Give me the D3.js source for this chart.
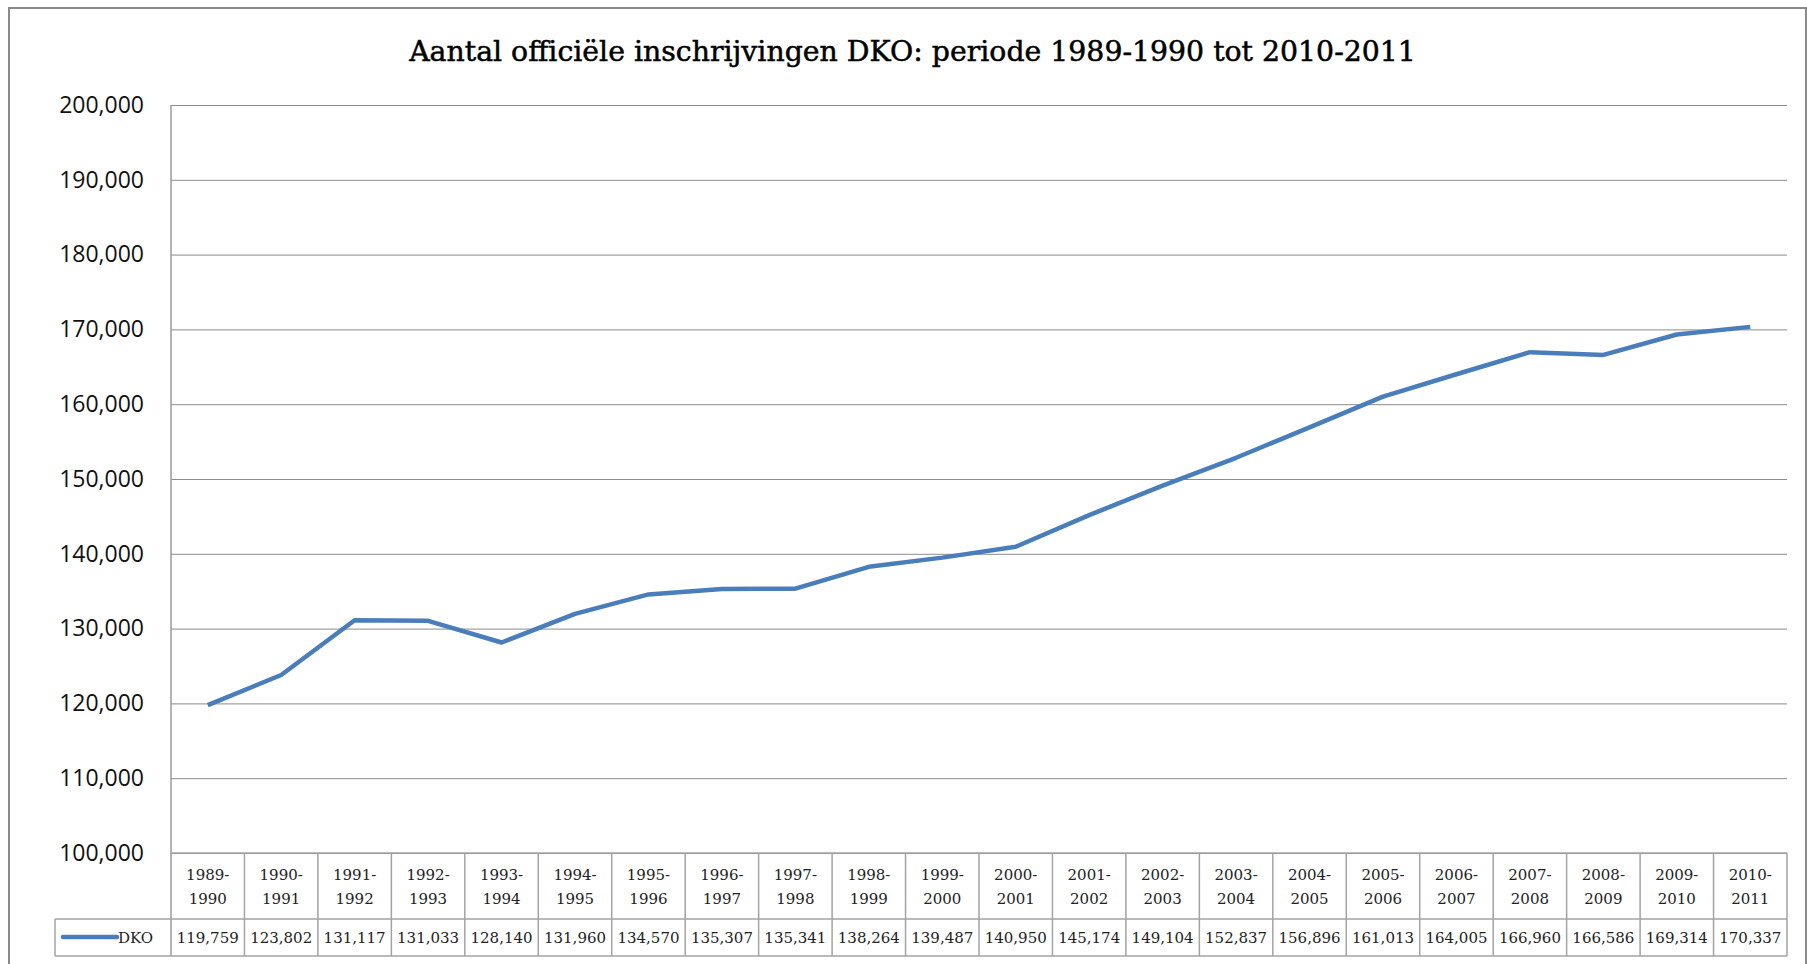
<!DOCTYPE html>
<html>
<head>
<meta charset="utf-8">
<script src="https://d3js.org/d3.v7.min.js"></script>
<style>
  body { margin: 0; background: #fff; }
  .ylab { font-family: "Open Sans", sans-serif; font-size: 23px; fill: #111; }
  .tbl { font-family: "DejaVu Serif", serif; font-size: 15px; fill: #222; }
  .title { font-family: "DejaVu Serif", serif; font-size: 26px; fill: #000; stroke: #000; stroke-width: 0.5px; }
</style>
</head>
<body>
<div id="chart"></div>
<script>
var years = ['1989-1990','1990-1991','1991-1992','1992-1993','1993-1994','1994-1995','1995-1996',
  '1996-1997','1997-1998','1998-1999','1999-2000','2000-2001','2001-2002','2002-2003','2003-2004',
  '2004-2005','2005-2006','2006-2007','2007-2008','2008-2009','2009-2010','2010-2011'];
var dko = [119759,123802,131117,131033,128140,131960,134570,135307,135341,138264,139487,
  140950,145174,149104,152837,156896,161013,164005,166960,166586,169314,170337];
var yTicks = [100000,110000,120000,130000,140000,150000,160000,170000,180000,190000,200000];
var seriesName = 'DKO';
var chartTitle = 'Aantal officiële inschrijvingen DKO: periode 1989-1990 tot 2010-2011';

var W = 1807, H = 964;
var plotL = 171, plotR = 1787, plotT = 105, plotB = 853;
var rowHead = 919, rowEnd = 956, legLeft = 55;

var svg = d3.select('#chart').append('svg').attr('width', W).attr('height', H);

// outer frame
svg.append('rect')
  .attr('x', 9).attr('y', 8).attr('width', 1797).attr('height', 990)
  .style('fill', 'none').style('stroke', '#8a8a8a').style('stroke-width', 2);

var title = svg.append('text').attr('class', 'title')
  .attr('x', (409 + 1416) / 2).attr('y', 61)
  .attr('text-anchor', 'middle')
  .text(chartTitle);
// fit title to the width it has in the original
var tw = title.node().getComputedTextLength();
title.style('font-size', (26 * 1007 / tw) + 'px');

var x = d3.scaleBand().domain(years).range([plotL, plotR]);
var y = d3.scaleLinear().domain([100000, 200000]).range([plotB, plotT]);

// gridlines + y labels
var yAxis = svg.append('g')
  .attr('transform', 'translate(' + plotL + ',0)')
  .call(d3.axisLeft(y).tickValues(yTicks).tickSize(-(plotR - plotL)).tickPadding(27).tickFormat(d3.format(',')));
yAxis.select('.domain').remove();
yAxis.selectAll('.tick line').style('stroke', '#8c8c8c').style('stroke-width', 1);
yAxis.selectAll('.tick text').attr('class', 'ylab');

// vertical axis line
svg.append('line')
  .attr('x1', plotL).attr('x2', plotL).attr('y1', plotT).attr('y2', rowEnd)
  .style('stroke', '#9a9a9a').style('stroke-width', 1.5);

// data table
var tbl = svg.append('g');
var cellStroke = '#a3a3a3';
tbl.selectAll('line.vcol')
  .data(years)
  .enter().append('line')
  .attr('class', 'vcol')
  .attr('x1', function(d) { return x(d) + x.bandwidth(); })
  .attr('x2', function(d) { return x(d) + x.bandwidth(); })
  .attr('y1', plotB).attr('y2', rowEnd)
  .style('stroke', cellStroke).style('stroke-width', 1.5);

tbl.append('line').attr('x1', plotL).attr('x2', plotR).attr('y1', plotB).attr('y2', plotB)
  .style('stroke', cellStroke).style('stroke-width', 1.5);
tbl.append('line').attr('x1', legLeft).attr('x2', plotR).attr('y1', rowHead).attr('y2', rowHead)
  .style('stroke', cellStroke).style('stroke-width', 1.5);
tbl.append('line').attr('x1', legLeft).attr('x2', plotR).attr('y1', rowEnd).attr('y2', rowEnd)
  .style('stroke', cellStroke).style('stroke-width', 1.5);
tbl.append('line').attr('x1', legLeft).attr('x2', legLeft).attr('y1', rowHead).attr('y2', rowEnd)
  .style('stroke', cellStroke).style('stroke-width', 1.5);

var head = tbl.selectAll('g.head')
  .data(years)
  .enter().append('g').attr('class', 'head');
head.append('text').attr('class', 'tbl')
  .attr('x', function(d) { return x(d) + x.bandwidth() / 2; })
  .attr('y', 880).attr('text-anchor', 'middle')
  .text(function(d) { return d.split('-')[0] + '-'; });
head.append('text').attr('class', 'tbl')
  .attr('x', function(d) { return x(d) + x.bandwidth() / 2; })
  .attr('y', 904).attr('text-anchor', 'middle')
  .text(function(d) { return d.split('-')[1]; });

tbl.selectAll('text.val')
  .data(dko)
  .enter().append('text')
  .attr('class', 'tbl val')
  .attr('x', function(d, i) { return x(years[i]) + x.bandwidth() / 2; })
  .attr('y', 943).attr('text-anchor', 'middle')
  .text(function(d) { return d3.format(',')(d); });

// legend key in table
tbl.append('line')
  .attr('x1', 63).attr('x2', 117).attr('y1', 937).attr('y2', 937)
  .style('stroke', '#4a7ebb').style('stroke-width', 4.5).style('stroke-linecap', 'round');
tbl.append('text').attr('class', 'tbl')
  .attr('x', 118).attr('y', 943)
  .text(seriesName);

// series line
var line = d3.line()
  .x(function(d, i) { return x(years[i]) + x.bandwidth() / 2; })
  .y(function(d) { return y(d); });

svg.append('path')
  .datum(dko)
  .attr('d', line)
  .style('fill', 'none')
  .style('stroke', '#4a7ebb')
  .style('stroke-width', 4.5)
  .style('stroke-linejoin', 'round');
</script>
</body>
</html>
